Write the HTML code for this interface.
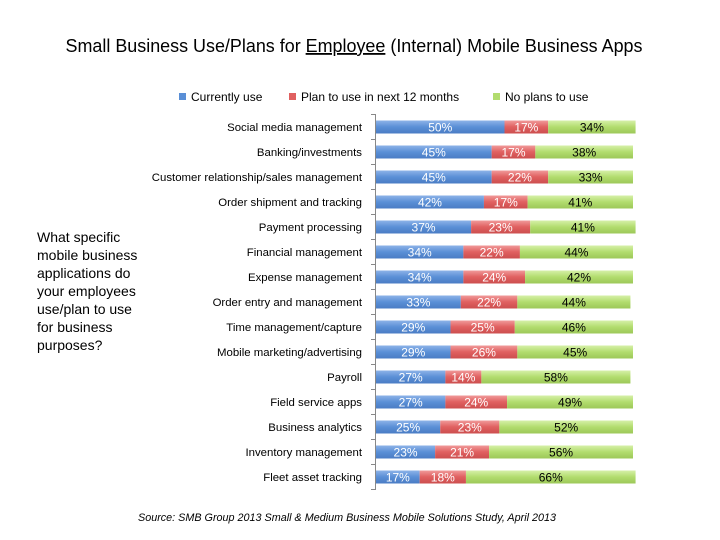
<!DOCTYPE html>
<html><head><meta charset="utf-8"><style>
body{margin:0;background:#fff}
svg{display:block;font-family:"Liberation Sans",sans-serif}
</style></head><body>
<svg id="s" width="720" height="540" viewBox="0 0 720 540" xmlns="http://www.w3.org/2000/svg">
<defs>
<linearGradient id="gb" x1="0" y1="0" x2="0" y2="1"><stop offset="0" stop-color="#8db3e8"/><stop offset="0.5" stop-color="#5a8fd6"/><stop offset="1" stop-color="#4a7cc4"/></linearGradient>
<linearGradient id="gr" x1="0" y1="0" x2="0" y2="1"><stop offset="0" stop-color="#f09a9a"/><stop offset="0.5" stop-color="#e06060"/><stop offset="1" stop-color="#cc4e4e"/></linearGradient>
<linearGradient id="gg" x1="0" y1="0" x2="0" y2="1"><stop offset="0" stop-color="#d6f0a8"/><stop offset="0.5" stop-color="#b2dc6e"/><stop offset="1" stop-color="#9cc858"/></linearGradient>
</defs>
<text x="354" y="52" font-size="18" text-anchor="middle" textLength="577" lengthAdjust="spacingAndGlyphs">Small Business Use/Plans for <tspan text-decoration="underline">Employee</tspan> (Internal) Mobile Business Apps</text>
<rect x="179" y="93" width="7" height="7" fill="#5a8fd6"/>
<text x="191" y="101" font-size="12">Currently use</text>
<rect x="289" y="93" width="7" height="7" fill="#e06060"/>
<text x="301" y="101" font-size="12">Plan to use in next 12 months</text>
<rect x="493" y="93" width="7" height="7" fill="#b2dc6e"/>
<text x="505" y="101" font-size="12">No plans to use</text>
<g font-size="14">
<text x="37" y="242">What specific</text>
<text x="37" y="260">mobile business</text>
<text x="37" y="278">applications do</text>
<text x="37" y="296">your employees</text>
<text x="37" y="314">use/plan to use</text>
<text x="37" y="332">for business</text>
<text x="37" y="350">purposes?</text>
</g>
<text x="347" y="521" font-size="11" font-style="italic" text-anchor="middle" textLength="418" lengthAdjust="spacingAndGlyphs">Source: SMB Group 2013 Small &amp; Medium Business Mobile Solutions Study,  April 2013</text>
<g id="bars"></g>
</svg>
<script>
var d=[["Social media management",50,17,34],["Banking/investments",45,17,38],["Customer relationship/sales management",45,22,33],["Order shipment and tracking",42,17,41],["Payment processing",37,23,41],["Financial management",34,22,44],["Expense management",34,24,42],["Order entry and management",33,22,44],["Time management/capture",29,25,46],["Mobile marketing/advertising",29,26,45],["Payroll",27,14,58],["Field service apps",27,24,49],["Business analytics",25,23,52],["Inventory management",23,21,56],["Fleet asset tracking",17,18,66]];
var h='',x0=376,k=2.57;
h+='<line x1="375.5" y1="114" x2="375.5" y2="490" stroke="#888"/>';
for(var i=0;i<=15;i++){var ty=114.5+i*25;h+='<line x1="371" y1="'+ty+'" x2="376" y2="'+ty+'" stroke="#888"/>';}
d.forEach(function(r,i){var cy=127+i*25,y=cy-6.5,x=x0;
h+='<text x="362" y="'+(cy+4)+'" font-size="11.4" text-anchor="end">'+r[0]+'</text>';
var g=['url(#gb)','url(#gr)','url(#gg)'],c=['#fff','#fff','#000'];
for(var j=1;j<4;j++){var w=r[j]*k;
h+='<rect x="'+x+'" y="'+y+'" width="'+w+'" height="13" fill="'+g[j-1]+'"/>';
h+='<text x="'+(x+w/2)+'" y="'+(cy+4.5)+'" font-size="12" text-anchor="middle" fill="'+c[j-1]+'">'+r[j]+'%</text>';
x+=w;}
});
document.getElementById('bars').innerHTML=h;
</script>
</body></html>
